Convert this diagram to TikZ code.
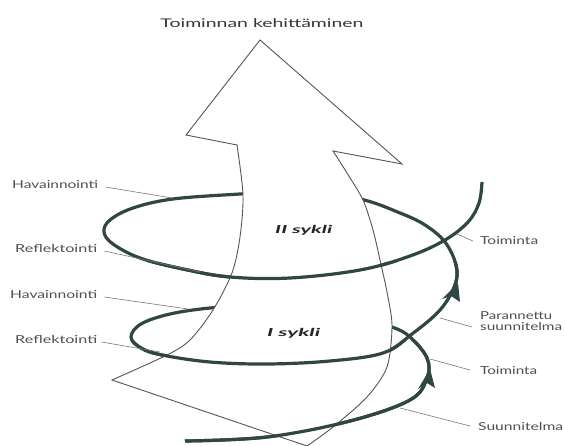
\documentclass[tikz,border=0pt]{standalone}
\usepackage{fontspec}
\usepackage{graphicx}
\newfontfamily\lbfont{Lato}
\definecolor{spiralc}{RGB}{48,70,66}
\definecolor{arrowc}{RGB}{85,85,85}
\definecolor{ptrc}{RGB}{120,120,120}
\definecolor{labelc}{RGB}{80,80,80}
\definecolor{titlec}{RGB}{55,55,55}
\newcommand{\fitw}[2]{\resizebox{#1}{\height}{#2}}
\newcommand{\spiralpts}{(185,441) (267,437) (350,421) (410,400) (427,378) (427,358) (410,337) (392,327) (350,314) (300,307) (250,306) (210,308) (170,314) (141,324) (131,337) (141,348) (162,355) (210,362) (267,364) (330,361) (383,353) (412,334) (440,310) (455,285) (456,265) (445,242) (425,225) (400,213) (360,199) (300,191) (240,194) (173,199) (133,208) (110,220) (104,232) (113,244) (140,258) (183,269) (230,277) (290,278) (360,270) (410,256) (445,240) (468,222) (479,203) (482,182)}
\begin{document}
\begin{tikzpicture}[x=1pt,y=-1pt,
  lbl/.style={font=\lbfont\fontsize{11}{12}\selectfont, text=labelc, inner sep=0pt, align=left},
  cyc/.style={font=\lbfont\bfseries\itshape\fontsize{11}{12}\selectfont, text=black!85, inner sep=0pt},
  ttl/.style={font=\lbfont\fontsize{12}{14}\selectfont, text=titlec, inner sep=0pt},
  ptr/.style={draw=ptrc, line width=0.6pt},
  spiral/.style={draw=spiralc, line width=3.2pt},
  bigarrow/.style={draw=arrowc, line width=0.9pt, fill=white, line join=miter},
  tipfill/.style={fill=spiralc}]
\useasboundingbox[fill=white] (0,0) rectangle (565,446);

% back layer of the spiral
\draw[spiral] plot[smooth, tension=0.6] coordinates {\spiralpts};

% the big arrow
\filldraw[bigarrow] (260,40) -- (186,135)
  -- plot[smooth] coordinates {(237,145) (243,195) (240,237) (232,273) (213,310) (190,340) (167,355) (112,380)}
  -- plot[smooth] coordinates {(307,446) (333,427) (367,397) (387,367) (392,327) (388,297) (380,260) (373,230) (363,200) (347,173) (333,151)}
  -- (402,164) -- cycle;

% front layer of the spiral
\begin{scope}
  \clip (0,262) rectangle (565,292) (0,340) rectangle (565,446);
  \draw[spiral] plot[smooth, tension=0.6] coordinates {\spiralpts};
\end{scope}

% arrowheads on the spiral
\fill[tipfill] (430,369) -- (418,389) -- (427,383) -- (435,388) -- cycle;
\fill[tipfill] (458,283) -- (442,299) -- (451,296) -- (460,302) -- cycle;

% title and cycle names
\node[ttl, anchor=base] (title) at (262,28) {\fitw{203pt}{Toiminnan kehittäminen}};
\node[cyc, anchor=base west] (c2) at (275,234) {\fitw{57pt}{II sykli}};
\node[cyc, anchor=base west] (c1) at (267,337) {\fitw{53pt}{I sykli}};

% left labels
\node[lbl, anchor=base west] (hav2) at (12,189) {\fitw{86pt}{Havainnointi}};
\node[lbl, anchor=base west] (ref2) at (15,253) {\fitw{82pt}{Reflektointi}};
\node[lbl, anchor=base west] (hav1) at (10,299) {\fitw{87pt}{Havainnointi}};
\node[lbl, anchor=base west] (ref1) at (15,344) {\fitw{82pt}{Reflektointi}};

% right labels
\node[lbl, anchor=base west] (toi2) at (480,245) {\fitw{58pt}{Toiminta}};
\node[lbl, anchor=base west] (par) at (480,331) {\fitw{72pt}{Parannettu}\\\fitw{82pt}{suunnitelma}};
\node[lbl, anchor=base west] (toi1) at (480,374) {\fitw{57pt}{Toiminta}};
\node[lbl, anchor=base west] (suu) at (478,430) {\fitw{85pt}{Suunnitelma}};

% pointer ends on the spiral
\coordinate (p-hav2) at (172,198);
\coordinate (p-ref2) at (200,272);
\coordinate (p-hav1) at (188,309);
\coordinate (p-ref1) at (160,352);
\coordinate (p-toi2) at (457,234);
\coordinate (p-par) at (440,318);
\coordinate (p-toi1) at (430,359);
\coordinate (p-suu) at (400,408);

\draw[ptr] ([xshift=7pt,yshift=-2pt]hav2.east) -- (p-hav2);
\draw[ptr] ([xshift=7pt,yshift=-2pt]ref2.east) -- (p-ref2);
\draw[ptr] ([xshift=7pt,yshift=-2pt]hav1.east) -- (p-hav1);
\draw[ptr] ([xshift=4pt,yshift=-2pt]ref1.east) -- (p-ref1);
\draw[ptr] ([xshift=-7pt]toi2.west) -- (p-toi2);
\draw[ptr] ([xshift=-8pt,yshift=4pt]par.base west) -- (p-par);
\draw[ptr] ([xshift=-10pt]toi1.west) -- (p-toi1);
\draw[ptr] ([xshift=-8pt]suu.west) -- (p-suu);
\end{tikzpicture}
\end{document}
